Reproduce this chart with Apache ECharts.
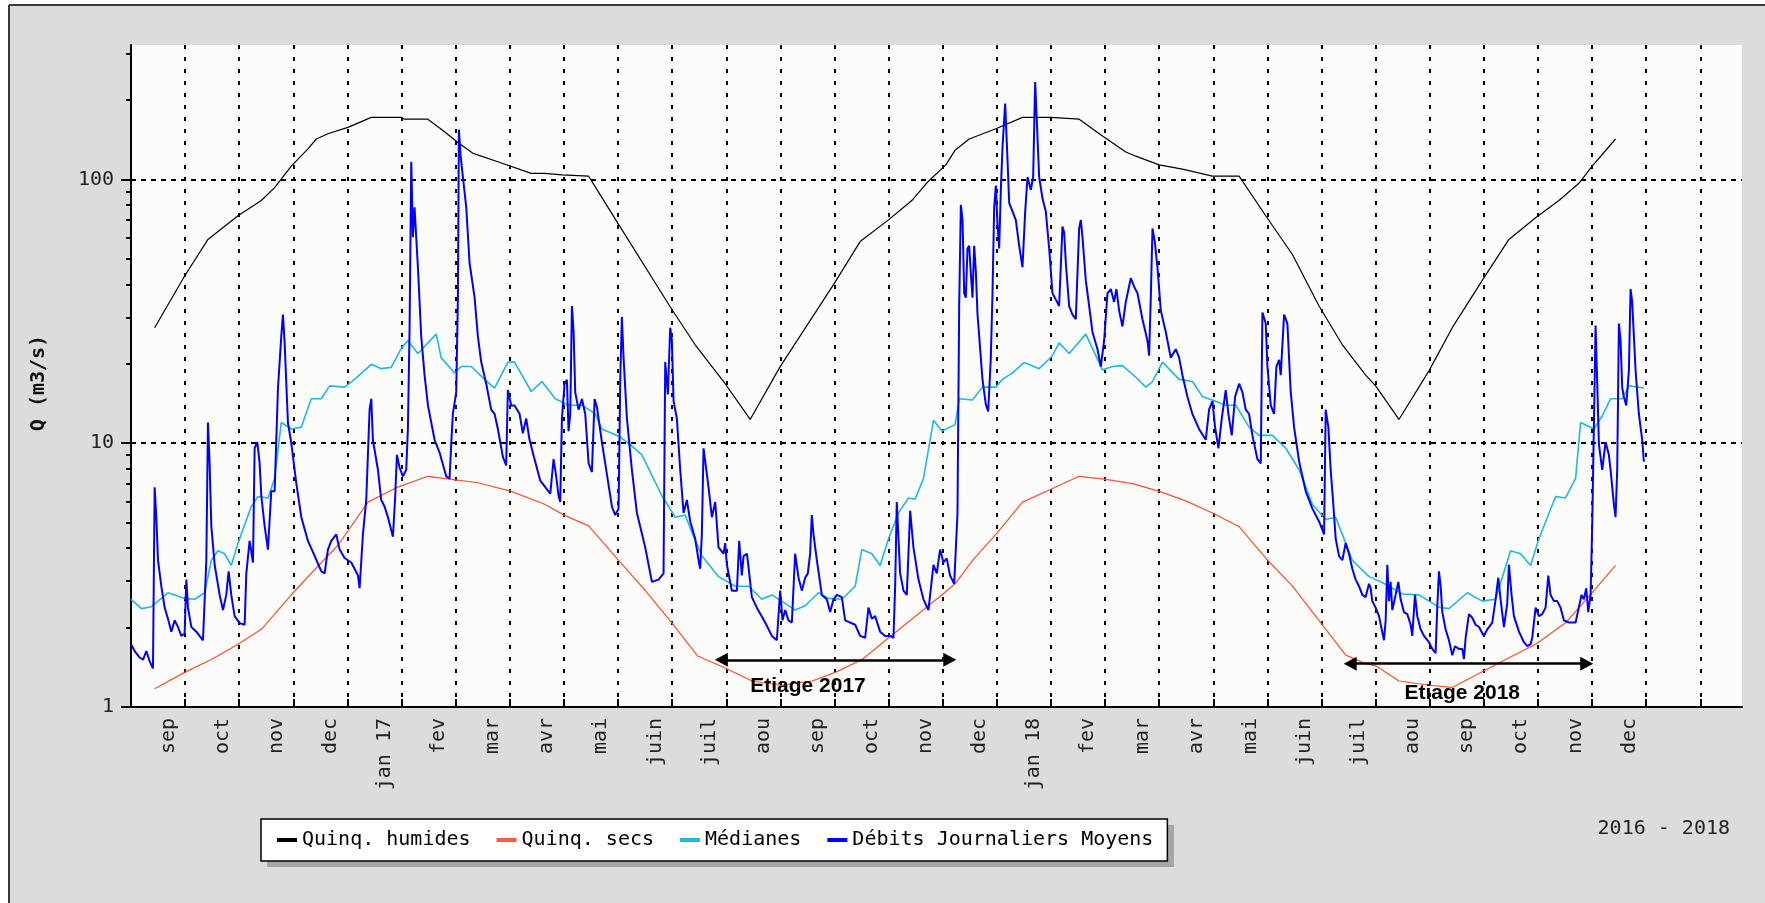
<!DOCTYPE html>
<html>
<head>
<meta charset="utf-8">
<script src="https://cdn.jsdelivr.net/npm/echarts@6/dist/echarts.min.js"></script>
<style>
html,body{margin:0;padding:0;background:#fff;}
#chart{width:1765px;height:903px;}
</style>
</head>
<body>
<div id="chart"></div>
<script>
// x positions are in months since 1 Aug 2016 (equal-width months, as in the reference)
const MONTH_LABELS = ['aou','sep','oct','nov','dec','jan 17','fev','mar','avr','mai','juin','juil',
  'aou','sep','oct','nov','dec','jan 18','fev','mar','avr','mai','juin','juil','aou','sep','oct','nov','dec'];
const MONTH_TICKS = [1,2,3,4,5,6,7,8,9,10,11,12,13,14,15,16,17,18,19,20,21,22,23,24,25,26,27,28,29];
const X_MAX = 29.77;
const Y_MAX = 323;
const Y_MAJOR = [1, 10, 100];
const Y_MINOR = [2,3,4,5,6,7,8,9,20,30,40,50,60,70,80,90,200,300];
const SERIES_NAMES = ['Quinq. humides', 'Quinq. secs', 'Médianes', 'Débits Journaliers Moyens'];
const PERIOD_TEXT = '2016 - 2018';
const Y_TITLE = 'Q (m3/s)';

const quinqHumides = [[0.437,27.4],[0.991,43.0],[1.422,59.2],[1.977,72.8],[2.408,83.1],[2.654,93.0],[2.962,112.2],[3.270,130.5],[3.424,142.2],[3.639,148.9],[4.009,157.4],[4.440,171.7],[4.994,171.7],[5.055,169],[5.486,169],[5.794,151.6],[6.041,138],[6.318,125.6],[6.472,122.4],[6.780,116.6],[7.395,105.3],[7.642,105.3],[7.963,104.0],[8.456,102.9],[9.010,67.5],[9.995,32.1],[10.426,23.6],[10.980,16.8],[11.442,12.3],[11.996,19.5],[12.982,39.9],[13.474,58.1],[13.998,70.2],[14.429,83.1],[14.736,98.4],[15.058,113.5],[15.229,129],[15.489,142.2],[15.982,155.6],[16.474,171.7],[16.998,171.7],[17.028,169],[17.521,169],[17.952,146],[18.383,127],[18.568,122.4],[18.999,113.5],[19.430,109.3],[19.984,102.9],[20.477,102.9],[20.969,72.8],[21.462,51.9],[21.954,33.1],[22.385,23.6],[22.816,18.1],[23.0,16.5],[23.431,12.3],[23.985,18.8],[24.416,27.4],[24.970,41.4],[25.463,59.2],[25.956,71.5],[26.387,83.1],[26.756,96.6],[27.002,112.2],[27.433,142.2]];

const quinqSecs = [[0.437,1.173],[0.991,1.353],[1.484,1.514],[1.977,1.728],[2.408,1.97],[2.962,2.663],[3.331,3.214],[3.824,4.104],[4.378,5.976],[4.932,6.817],[5.486,7.49],[5.918,7.295],[6.41,7.079],[7.026,6.567],[7.642,5.865],[8.0,5.337],[8.456,4.859],[9.01,3.596],[9.503,2.764],[9.995,2.085],[10.468,1.561],[10.98,1.405],[11.473,1.255],[12.0,1.209],[12.585,1.255],[13.016,1.353],[13.51,1.514],[14.002,1.831],[14.495,2.208],[14.988,2.663],[15.229,2.93],[15.55,3.596],[15.982,4.51],[16.474,5.976],[16.998,6.69],[17.521,7.49],[18.014,7.295],[18.506,7.025],[18.999,6.567],[19.491,6.045],[19.984,5.44],[20.477,4.824],[20.969,3.664],[21.462,2.871],[21.954,2.125],[22.447,1.573],[22.816,1.459],[23.0,1.432],[23.431,1.255],[23.985,1.209],[24.416,1.186],[25.401,1.514],[25.956,1.728],[26.51,2.085],[27.002,2.713],[27.433,3.439]];

const medianes = [[0.0,2.56],[0.191,2.36],[0.376,2.40],[0.683,2.71],[0.991,2.58],[1.176,2.56],[1.361,2.71],[1.484,3.60],[1.607,3.91],[1.730,3.81],[1.853,3.44],[1.977,4.18],[2.223,5.75],[2.346,6.28],[2.531,6.20],[2.654,7.35],[2.777,11.98],[2.962,11.32],[3.147,11.5],[3.331,14.73],[3.516,14.73],[3.670,16.49],[3.947,16.31],[4.132,17.45],[4.440,19.90],[4.624,19.16],[4.809,19.38],[4.994,22.87],[5.117,24.47],[5.302,21.86],[5.640,25.9],[5.733,21.05],[5.979,18.46],[6.102,19.53],[6.287,19.53],[6.533,17.45],[6.718,16.18],[6.964,20.28],[7.087,20.28],[7.395,15.7],[7.594,17.12],[7.840,14.73],[8.086,13.93],[8.333,13.93],[8.579,12.92],[8.702,11.32],[9.010,10.62],[9.195,10.0],[9.441,9.03],[9.810,6.32],[10.057,5.24],[10.241,5.34],[10.365,4.59],[10.549,3.74],[10.857,3.12],[11.165,2.87],[11.411,2.87],[11.658,2.56],[11.842,2.66],[12.089,2.47],[12.273,2.33],[12.458,2.42],[12.704,2.71],[12.889,2.58],[13.135,2.56],[13.382,2.87],[13.505,3.95],[13.690,3.81],[13.843,3.44],[13.998,4.34],[14.183,5.44],[14.367,6.20],[14.490,6.13],[14.644,7.35],[14.829,12.21],[14.983,11.11],[15.229,11.76],[15.305,14.73],[15.550,14.57],[15.735,16.31],[15.982,16.31],[16.105,17.45],[16.289,18.46],[16.505,20.2],[16.782,19.16],[17.028,21.45],[17.151,24.0],[17.336,21.86],[17.644,25.9],[17.952,18.95],[18.137,19.53],[18.321,19.67],[18.568,17.78],[18.753,16.31],[18.876,17.12],[19.061,20.28],[19.369,17.45],[19.615,17.12],[19.800,15.01],[19.984,14.57],[20.230,13.93],[20.415,13.93],[20.661,11.5],[20.846,10.7],[21.092,10.7],[21.339,9.57],[21.585,7.93],[21.831,5.865],[22.077,5.14],[22.262,5.24],[22.447,4.18],[22.569,3.60],[22.877,3.12],[23.185,2.92],[23.493,2.68],[23.800,2.66],[24.170,2.39],[24.355,2.36],[24.693,2.71],[24.970,2.52],[25.216,2.56],[25.493,3.91],[25.678,3.81],[25.863,3.44],[26.017,4.34],[26.325,6.28],[26.510,6.20],[26.695,7.35],[26.787,11.98],[27.033,11.32],[27.187,12.67],[27.341,14.73],[27.557,14.73],[27.680,16.49],[27.957,16.18]];

const debitsJournaliers = [[0.0,1.73],[0.068,1.63],[0.16,1.54],[0.222,1.51],[0.283,1.63],[0.345,1.49],[0.406,1.40],[0.437,6.81],[0.468,5.24],[0.499,3.60],[0.560,2.87],[0.622,2.38],[0.683,2.16],[0.745,1.93],[0.807,2.13],[0.868,2.01],[0.930,1.86],[0.991,1.90],[1.022,3.04],[1.053,2.38],[1.115,2.01],[1.207,1.93],[1.330,1.79],[1.392,3.60],[1.422,11.98],[1.453,8.38],[1.484,4.86],[1.546,3.46],[1.638,2.66],[1.700,2.33],[1.761,2.66],[1.804,3.27],[1.853,2.66],[1.915,2.21],[2.007,2.08],[2.100,2.05],[2.131,3.21],[2.192,4.26],[2.254,3.53],[2.285,9.57],[2.334,10.1],[2.377,8.38],[2.408,6.32],[2.469,4.86],[2.531,3.95],[2.592,6.57],[2.654,6.57],[2.716,16.18],[2.777,25.4],[2.808,30.7],[2.839,24.0],[2.900,11.98],[2.962,10.0],[3.054,7.07],[3.147,5.24],[3.270,4.26],[3.393,3.74],[3.516,3.27],[3.578,3.21],[3.639,3.95],[3.701,4.26],[3.793,4.51],[3.855,3.95],[3.947,3.67],[4.070,3.53],[4.193,3.16],[4.224,2.82],[4.286,4.51],[4.347,6.09],[4.409,13.4],[4.440,14.73],[4.470,10.3],[4.563,7.93],[4.624,6.09],[4.686,5.75],[4.748,5.24],[4.840,4.42],[4.883,6.32],[4.914,9.03],[4.963,8.07],[5.025,7.49],[5.086,7.93],[5.117,11.32],[5.148,27.4],[5.179,116.6],[5.209,60.3],[5.240,78.4],[5.302,46.4],[5.363,25.4],[5.425,18.1],[5.487,13.93],[5.610,10.3],[5.702,9.21],[5.825,7.49],[5.887,7.35],[5.918,10.0],[5.948,12.92],[6.010,15.6],[6.041,35.7],[6.059,154.5],[6.090,123.3],[6.133,102.2],[6.195,78.4],[6.256,48.2],[6.349,35.7],[6.410,25.4],[6.472,20.3],[6.564,16.8],[6.656,13.4],[6.718,12.92],[6.780,11.32],[6.872,8.87],[6.933,8.23],[6.964,15.9],[7.026,13.9],[7.087,13.9],[7.180,12.92],[7.241,10.9],[7.303,12.4],[7.365,10.3],[7.457,8.70],[7.563,7.21],[7.655,6.81],[7.748,6.44],[7.809,8.70],[7.852,7.63],[7.901,6.32],[7.932,5.98],[7.963,12.4],[8.012,16.8],[8.055,17.4],[8.086,11.1],[8.117,12.9],[8.148,33.1],[8.179,26.4],[8.209,15.6],[8.271,13.4],[8.333,14.7],[8.394,12.9],[8.456,8.38],[8.517,7.77],[8.567,14.7],[8.610,13.7],[8.702,10.1],[8.794,7.63],[8.887,5.75],[8.948,5.34],[9.010,5.65],[9.041,17.4],[9.071,30.1],[9.102,21.1],[9.164,12.4],[9.256,7.92],[9.349,5.44],[9.502,4.03],[9.626,2.98],[9.749,3.04],[9.841,3.21],[9.872,20.3],[9.921,15.3],[9.964,27.4],[9.995,24.5],[10.026,14.45],[10.087,12.4],[10.149,7.92],[10.211,5.44],[10.272,6.09],[10.334,5.05],[10.426,4.34],[10.488,3.60],[10.518,3.34],[10.549,4.51],[10.580,9.56],[10.611,8.54],[10.672,6.81],[10.734,5.24],[10.796,5.98],[10.857,4.03],[10.950,3.81],[10.980,4.18],[11.011,3.46],[11.103,2.76],[11.196,2.76],[11.239,4.26],[11.288,3.15],[11.319,3.73],[11.381,3.81],[11.411,3.40],[11.473,2.61],[11.565,2.38],[11.719,2.09],[11.842,1.86],[11.935,1.79],[11.996,2.76],[12.039,2.13],[12.089,2.33],[12.150,2.13],[12.212,2.09],[12.273,3.81],[12.335,3.09],[12.397,2.76],[12.458,3.09],[12.507,3.21],[12.550,3.81],[12.581,5.34],[12.612,4.51],[12.674,3.60],[12.766,2.66],[12.858,2.56],[12.920,2.29],[12.982,2.56],[13.043,2.66],[13.135,2.61],[13.197,2.13],[13.382,2.05],[13.474,1.86],[13.567,1.83],[13.628,2.38],[13.690,2.16],[13.751,2.21],[13.843,1.93],[13.936,1.86],[14.028,1.86],[14.090,1.83],[14.121,2.87],[14.151,5.98],[14.213,3.21],[14.275,2.76],[14.336,2.66],[14.398,5.54],[14.459,4.03],[14.552,3.04],[14.644,2.56],[14.736,2.33],[14.829,3.46],[14.890,3.21],[14.951,3.95],[15.013,3.53],[15.074,3.66],[15.136,3.15],[15.212,2.93],[15.273,5.44],[15.304,33.1],[15.335,80.0],[15.366,70.1],[15.397,37.0],[15.427,35.6],[15.458,54.7],[15.489,56.0],[15.520,43.8],[15.550,35.6],[15.581,56.0],[15.612,44.7],[15.643,30.7],[15.674,25.4],[15.735,17.4],[15.797,14.0],[15.840,13.2],[15.889,21.1],[15.920,37.0],[15.951,78.5],[15.982,94.7],[16.012,67.5],[16.043,54.7],[16.074,91.2],[16.105,132.9],[16.154,193.6],[16.197,118.7],[16.228,81.5],[16.289,75.6],[16.351,70.1],[16.413,56.0],[16.474,46.4],[16.524,75.6],[16.567,102.1],[16.628,91.2],[16.671,102.1],[16.708,233.6],[16.739,166],[16.782,102.1],[16.844,84.6],[16.905,75.6],[16.967,54.7],[17.028,37.0],[17.090,35.0],[17.151,33.1],[17.213,66.3],[17.244,62.7],[17.275,48.2],[17.336,33.1],[17.398,30.7],[17.459,29.5],[17.521,65.1],[17.552,70.1],[17.583,60.3],[17.644,41.4],[17.706,33.1],[17.767,26.4],[17.860,22.7],[17.921,19.5],[17.983,24.5],[18.044,37.0],[18.106,38.4],[18.167,34.3],[18.210,38.4],[18.260,31.8],[18.321,27.7],[18.383,34.3],[18.475,42.2],[18.537,39.2],[18.599,37.0],[18.691,29.5],[18.783,24.5],[18.814,21.45],[18.845,35.6],[18.876,65.1],[18.919,58.1],[18.968,46.4],[19.030,31.8],[19.122,26.4],[19.214,21.1],[19.307,22.7],[19.368,21.1],[19.430,18.1],[19.522,15.0],[19.614,12.9],[19.738,11.3],[19.861,10.3],[19.922,13.4],[19.984,14.45],[20.033,11.5],[20.095,9.56],[20.156,12.4],[20.230,15.9],[20.279,12.9],[20.341,10.7],[20.403,15.0],[20.477,16.8],[20.538,15.6],[20.600,13.4],[20.661,12.9],[20.723,10.7],[20.815,8.70],[20.877,8.38],[20.908,31.3],[20.969,28.4],[21.000,19.5],[21.062,13.9],[21.123,12.9],[21.166,19.5],[21.216,20.7],[21.246,18.1],[21.308,30.7],[21.369,28.4],[21.431,15.6],[21.493,11.5],[21.585,8.54],[21.708,6.57],[21.831,5.65],[21.954,5.05],[22.047,4.51],[22.077,13.4],[22.126,11.5],[22.169,7.92],[22.212,6.09],[22.262,4.34],[22.324,3.73],[22.385,3.60],[22.446,4.18],[22.507,3.81],[22.569,3.34],[22.631,3.04],[22.692,2.87],[22.754,2.66],[22.815,2.61],[22.877,2.93],[22.908,2.82],[22.938,2.52],[23.0,2.38],[23.062,2.21],[23.154,1.79],[23.185,2.13],[23.216,3.46],[23.246,2.52],[23.277,2.98],[23.308,2.33],[23.369,2.66],[23.419,2.98],[23.462,2.56],[23.523,2.29],[23.585,2.25],[23.647,2.05],[23.677,1.86],[23.727,2.66],[23.770,2.21],[23.831,1.97],[23.893,1.86],[23.985,1.76],[24.047,1.66],[24.108,1.60],[24.139,2.38],[24.170,3.27],[24.201,2.87],[24.232,2.29],[24.293,1.97],[24.355,1.79],[24.416,1.57],[24.466,1.70],[24.539,1.66],[24.601,1.66],[24.632,1.52],[24.663,1.83],[24.724,2.25],[24.786,2.18],[24.847,2.05],[24.909,2.01],[25.001,1.86],[25.063,1.97],[25.155,2.09],[25.217,2.56],[25.266,3.09],[25.309,2.56],[25.371,2.01],[25.432,2.47],[25.463,3.46],[25.512,2.66],[25.555,2.21],[25.648,1.93],[25.740,1.76],[25.802,1.70],[25.863,1.73],[25.894,1.83],[25.956,2.38],[26.017,2.21],[26.079,2.25],[26.140,2.38],[26.190,3.15],[26.233,2.66],[26.294,2.52],[26.356,2.52],[26.417,2.38],[26.479,2.13],[26.571,2.09],[26.695,2.09],[26.805,2.66],[26.848,2.56],[26.892,2.82],[26.929,2.29],[26.972,2.66],[27.002,4.86],[27.064,27.9],[27.095,16.8],[27.126,9.9],[27.187,7.92],[27.249,10.1],[27.310,9.03],[27.341,7.92],[27.403,5.86],[27.433,5.24],[27.464,7.92],[27.495,28.4],[27.526,24.5],[27.557,16.2],[27.587,15.0],[27.631,13.9],[27.680,18.9],[27.711,38.4],[27.741,34.3],[27.772,25.4],[27.803,18.9],[27.864,12.9],[27.926,10.3],[27.957,8.5]];

// low-water periods: arrow from / to (months), arrow level (m3/s), label position
const ETIAGE_NAMES = ['Etiage 2017', 'Etiage 2018'];
const ETIAGE_FROM = [10.91, 22.53];
const ETIAGE_TO = [15.13, 26.90];
const ETIAGE_Q = [1.51, 1.46];
const ETIAGE_LABEL_X = [12.51, 24.60];
const ETIAGE_LABEL_Q = [1.20, 1.125];

const MONO = '"DejaVu Sans Mono", "Liberation Mono", monospace';
const LABEL_SHIFT = 0.31;

const chart = echarts.init(document.getElementById('chart'), null, {renderer: 'canvas'});

const lineBase = {type: 'line', xAxisIndex: 0, yAxisIndex: 0, showSymbol: false, symbol: 'none', animation: false, silent: true, clip: true};

const option = {
  backgroundColor: '#dcdcda',
  animation: false,
  textStyle: {fontFamily: MONO},
  grid: {left: 131, right: 23, top: 45, bottom: 196, show: true, backgroundColor: '#fcfdfb', borderWidth: 0, containLabel: false, outerBoundsMode: 'none'},
  legend: {
    data: SERIES_NAMES,
    left: 261, top: 819,
    orient: 'horizontal',
    icon: 'rect', itemWidth: 20, itemHeight: 4, itemGap: 26,
    padding: [11, 14, 11, 16],
    backgroundColor: '#ffffff', borderColor: '#000', borderWidth: 1.5,
    selectedMode: false,
    textStyle: {fontFamily: MONO, fontSize: 20, color: '#000', padding: [0, 0, 0, 0]}
  },
  xAxis: {
    type: 'value', min: 0, max: X_MAX,
    axisLine: {show: true, onZero: false, lineStyle: {color: '#000', width: 2}},
    axisTick: {show: true, inside: true, length: 8, customValues: MONTH_TICKS, lineStyle: {color: '#000', width: 2}},
    splitLine: {show: true, lineStyle: {color: '#000', width: 2, type: [4, 8]}},
    axisLabel: {
      customValues: MONTH_TICKS.slice(0, MONTH_LABELS.length - 1).map(k => k - LABEL_SHIFT),
      formatter: v => MONTH_LABELS[Math.round(v + LABEL_SHIFT)],
      rotate: 90, margin: 11, fontFamily: MONO, fontSize: 20, color: '#222'
    }
  },
  yAxis: [
    {type: 'log', logBase: 10, min: 1, max: Y_MAX, show: false, position: 'left'},
    {
      type: 'value', min: 0, max: Math.log10(Y_MAX), position: 'left',
      axisLine: {show: true, onZero: false, lineStyle: {color: '#000', width: 2}},
      axisTick: {show: true, length: 10, customValues: Y_MAJOR.map(Math.log10), lineStyle: {color: '#000', width: 2}},
      axisLabel: {customValues: Y_MAJOR.map(Math.log10), formatter: v => String(Math.round(Math.pow(10, v))), margin: 17, fontFamily: MONO, fontSize: 20, color: '#222'},
      splitLine: {show: true, lineStyle: {color: '#000', width: 2, type: [5, 5]}}
    },
    {
      type: 'value', min: 0, max: Math.log10(Y_MAX), position: 'left',
      axisLine: {show: false, onZero: false},
      axisTick: {show: true, length: 5, customValues: Y_MINOR.map(Math.log10), lineStyle: {color: '#000', width: 2}},
      axisLabel: {show: false},
      splitLine: {show: false}
    }
  ],
  graphic: [
    {type: 'rect', shape: {x: 0, y: 0, width: 9, height: 903}, style: {fill: '#ffffff'}, silent: true},
    {type: 'rect', shape: {x: 0, y: 0, width: 1765, height: 5}, style: {fill: '#ffffff'}, silent: true},
    {type: 'line', shape: {x1: 9, y1: 5, x2: 9, y2: 903}, style: {stroke: '#3a3a3a', lineWidth: 2}, silent: true},
    {type: 'line', shape: {x1: 9, y1: 5, x2: 1765, y2: 5}, style: {stroke: '#3a3a3a', lineWidth: 2}, silent: true},
    {type: 'rect', shape: {x: 267, y: 825, width: 907, height: 42}, style: {fill: '#a6a6a6'}, silent: true, z: 0},
    {type: 'text', x: 1730, y: 829, style: {text: PERIOD_TEXT, fontFamily: MONO, fontSize: 20, fill: '#222', textAlign: 'right', textVerticalAlign: 'middle', verticalAlign: 'middle'}, silent: true},
    {type: 'text', x: 39, y: 383, rotation: Math.PI / 2, style: {text: Y_TITLE, fontFamily: MONO, fontWeight: 'bold', fontSize: 20, fill: '#111', textAlign: 'center', align: 'center', textVerticalAlign: 'middle', verticalAlign: 'middle'}, silent: true}
  ],
  series: [
    Object.assign({}, lineBase, {
      name: SERIES_NAMES[0], data: quinqHumides, z: 2,
      lineStyle: {color: '#000000', width: 1.2}, itemStyle: {color: '#000000'},
      markLine: {
        silent: true, animation: false,
        symbol: ['triangle', 'triangle'], symbolSize: [14, 13],
        lineStyle: {color: '#000', width: 2.5, type: 'solid'},
        label: {show: false},
        data: ETIAGE_NAMES.map((n, i) => [{coord: [ETIAGE_FROM[i], ETIAGE_Q[i]]}, {coord: [ETIAGE_TO[i], ETIAGE_Q[i]]}])
      },
      markPoint: {
        silent: true, animation: false,
        symbol: 'rect', symbolSize: 1, itemStyle: {color: 'rgba(0,0,0,0)'},
        label: {show: true, position: 'inside', formatter: p => p.name, color: '#000', fontFamily: '"Liberation Sans", Arial, sans-serif', fontWeight: 'bold', fontSize: 21},
        data: ETIAGE_NAMES.map((n, i) => ({name: n, coord: [ETIAGE_LABEL_X[i], ETIAGE_LABEL_Q[i]]}))
      }
    }),
    Object.assign({}, lineBase, {
      name: SERIES_NAMES[1], data: quinqSecs, z: 3,
      lineStyle: {color: '#ff4f2e', width: 1.2}, itemStyle: {color: '#f4603f'}
    }),
    Object.assign({}, lineBase, {
      name: SERIES_NAMES[2], data: medianes, z: 4,
      lineStyle: {color: '#1fb8e4', width: 1.6}, itemStyle: {color: '#1fb8e4'}
    }),
    Object.assign({}, lineBase, {
      name: SERIES_NAMES[3], data: debitsJournaliers, z: 5,
      lineStyle: {color: '#0000ff', width: 2}, itemStyle: {color: '#0000ff'}
    })
  ]
};
chart.setOption(option);
</script>
</body>
</html>
